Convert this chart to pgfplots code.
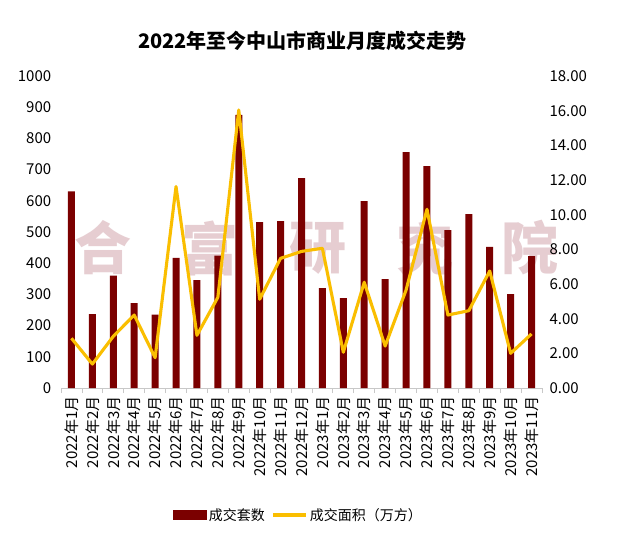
\documentclass[border=0pt]{standalone}
\usepackage{fontspec}
\setmainfont{Noto Sans CJK SC}
\usepackage{pgfplots}
\pgfplotsset{compat=1.18}
\definecolor{barred}{RGB}{123,0,0}
\definecolor{lineyel}{RGB}{250,190,0}
\definecolor{wm}{RGB}{230,205,209}
\definecolor{axgray}{RGB}{200,200,200}
\begin{document}
\begin{tikzpicture}[x=1pt,y=1pt]
\path[use as bounding box] (0,0) rectangle (629,549);
\fill[white] (0,0) rectangle (629,549);
\node[font=\fontsize{20}{24}\selectfont\bfseries] at (302.5,508) {2022年至今中山市商业月度成交走势};
\foreach \c/\xx in {合/103,富/210,研/318,究/425,院/530}{
  \node[font=\fontsize{57}{60}\selectfont\bfseries, text=wm] at (\xx,301) {\c};
}
\begin{axis}[
  at={(61pt,161pt)}, anchor=south west, scale only axis,
  width=481pt, height=312pt,
  xmin=-0.5, xmax=22.5, ymin=0, ymax=1000,
  axis x line*=bottom, axis y line*=left,
  y axis line style={draw=none},
  x axis line style={draw=axgray, line width=1pt},
  ytick={0,100,...,1000}, ytick style={draw=none},
  xtick={0,...,22}, major x tick style={draw=none},
  minor xtick={-0.5,0.5,...,22.5},
  minor x tick style={draw=axgray, line width=0.8pt},
  minor tick length=5pt, tick align=outside,
  xticklabels={2022年1月,2022年2月,2022年3月,2022年4月,2022年5月,2022年6月,2022年7月,2022年8月,2022年9月,2022年10月,2022年11月,2022年12月,2023年1月,2023年2月,2023年3月,2023年4月,2023年5月,2023年6月,2023年7月,2023年8月,2023年9月,2023年10月,2023年11月},
  xticklabel style={rotate=90, anchor=east, font=\fontsize{15}{17}\selectfont, inner sep=1pt},
  yticklabel style={font=\fontsize{15}{17}\selectfont},
  /pgf/number format/assume math mode=true,
  /pgf/number format/1000 sep={},
  xticklabel shift=3pt,
  yticklabel shift=2pt,
]
\addplot[ybar, bar width=7pt, fill=barred, draw=none] coordinates {
(0,630) (1,237) (2,360) (3,272) (4,235) (5,417) (6,346) (7,424) (8,875) (9,532) (10,535) (11,673)
(12,320) (13,288) (14,599) (15,349) (16,756) (17,711) (18,506) (19,557) (20,452) (21,301) (22,423)};
\end{axis}
\begin{axis}[
  at={(61pt,161pt)}, anchor=south west, scale only axis,
  width=481pt, height=312pt,
  xmin=-0.5, xmax=22.5, ymin=0, ymax=18,
  axis x line=none, axis y line*=right,
  y axis line style={draw=none},
  ytick={0,2,...,18}, ytick style={draw=none},
  yticklabel style={font=\fontsize{15}{17}\selectfont, /pgf/number format/fixed, /pgf/number format/fixed zerofill, /pgf/number format/precision=2},
  /pgf/number format/assume math mode=true,
  yticklabel shift=4pt,
  legend style={at={(0.494,-0.407)}, anchor=center, draw=none, fill=none,
    font=\fontsize{14}{16}\selectfont, legend columns=2,
    /tikz/every even column/.append style={column sep=5pt}},
  legend cell align=left,
]
\addlegendimage{legend image code/.code={\fill[barred] (0pt,-4.5pt) rectangle (33pt,4.5pt);}}
\addlegendentry{成交套数}
\addplot[lineyel, line width=3.1pt, line join=round, mark=none,
  legend image code/.code={\draw[lineyel, line width=3.1pt] (0pt,0pt) -- (33pt,0pt);}] coordinates {
(0,2.87) (1,1.38) (2,2.98) (3,4.21) (4,1.75) (5,11.62) (6,3.04) (7,5.23) (8,16.04) (9,5.12) (10,7.48) (11,7.88)
(12,8.06) (13,2.06) (14,6.10) (15,2.42) (16,5.65) (17,10.31) (18,4.21) (19,4.46) (20,6.75) (21,2.00) (22,3.12)};
\addlegendentry{成交面积（万方）}
\end{axis}
\end{tikzpicture}
\end{document}
